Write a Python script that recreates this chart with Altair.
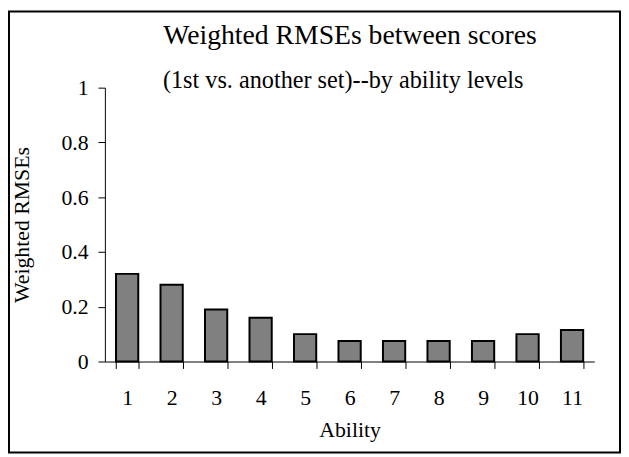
import altair as alt
import pandas as pd

ability = [str(i) for i in range(1, 12)]
rmse = [0.32, 0.28, 0.19, 0.16, 0.10, 0.075, 0.075, 0.075, 0.075, 0.10, 0.115]
y_ticks = [0, 0.2, 0.4, 0.6, 0.8, 1]
title_text = "Weighted RMSEs between scores"
subtitle_text = "(1st vs. another set)--by ability levels"

df = pd.DataFrame({"Ability": ability, "RMSE": rmse})

FONT = "Liberation Serif"
W, H = 495, 277

bars = alt.Chart(df).mark_bar(
    fill="#808080", stroke="black", strokeWidth=2
).encode(
    x=alt.X("Ability:O", sort=ability,
            scale=alt.Scale(paddingInner=0.5, paddingOuter=0.25),
            axis=alt.Axis(title="Ability", labelAngle=0, tickBand="extent",
                          labelPadding=19, titlePadding=12)),
    y=alt.Y("RMSE:Q", scale=alt.Scale(domain=[0, 1], nice=False),
            axis=alt.Axis(title="Weighted RMSEs", values=y_ticks, format=".1~f",
                          labelPadding=10, titlePadding=28)),
)

frame = alt.Chart(alt.Data(values=[{}])).mark_rect(
    fill=None, fillOpacity=0, stroke="black", strokeWidth=2
).encode(
    x=alt.value(-97), x2=alt.value(W + 26),
    y=alt.value(-77), y2=alt.value(H + 92),
)

titles = pd.DataFrame({"t": [title_text, subtitle_text],
                       "kind": ["title", "subtitle"]})

title_mark = alt.Chart(titles).transform_filter(
    alt.datum.kind == "title"
).mark_text(
    font=FONT, fontSize=28, color="black", align="center", baseline="alphabetic"
).encode(text="t:N", x=alt.value(248), y=alt.value(-44))

subtitle_mark = alt.Chart(titles).transform_filter(
    alt.datum.kind == "subtitle"
).mark_text(
    font=FONT, fontSize=24.5, color="black", align="center", baseline="alphabetic"
).encode(text="t:N", x=alt.value(241), y=alt.value(0))

chart = alt.layer(bars, frame, title_mark, subtitle_mark).properties(
    width=W, height=H,
    background="white",
    autosize=alt.AutoSizeParams(type="none"),
    padding={"left": 98, "top": 78, "right": 27, "bottom": 93},
).configure_view(stroke=None).configure_axis(
    grid=False, domainColor="black", tickColor="black", tickSize=7,
    labelFont=FONT, labelFontSize=22, labelColor="black",
    titleFont=FONT, titleFontSize=22, titleFontWeight="normal", titleColor="black",
)

chart.save("out.html", embed_options={"renderer": "svg", "actions": False})
